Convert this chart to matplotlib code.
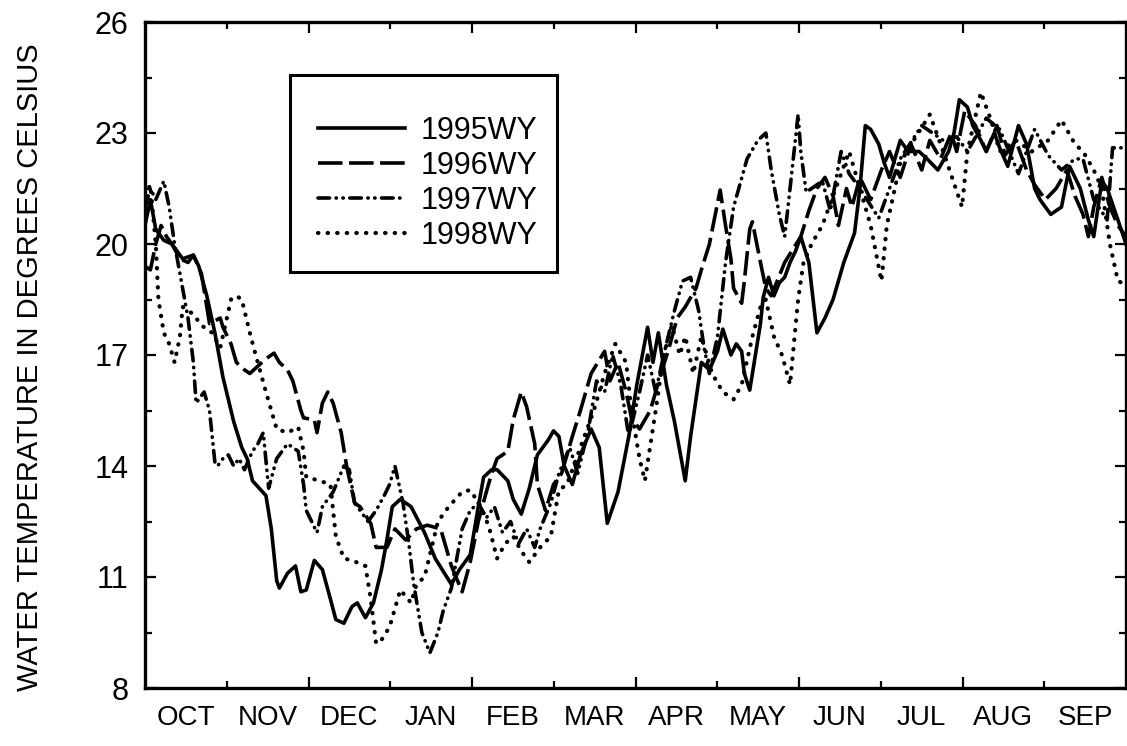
import numpy as np
import matplotlib.pyplot as plt
from matplotlib.patches import Rectangle

plt.rcParams['font.family'] = ['Liberation Sans', 'DejaVu Sans']

# water year runs Oct 1 .. Sep 30, x is day of water year
months = ["OCT", "NOV", "DEC", "JAN", "FEB", "MAR", "APR", "MAY", "JUN", "JUL", "AUG", "SEP"]

days_1995 = [0, 2, 4, 7, 10, 14, 18, 20, 23, 26, 29, 33, 36, 38, 40, 45, 47, 49, 50, 53,
             56, 58, 60, 63, 66, 69, 71, 74, 77, 79, 82, 85, 88, 90, 92, 95, 99, 104, 108, 114,
             117, 121, 124, 126, 129, 131, 135, 137, 140, 143, 146, 150, 152, 154, 156, 159, 162, 166, 169, 172,
             176, 180, 183, 187, 189, 191, 194, 197, 201, 203, 207, 210, 213, 215, 218, 220, 222, 223, 225, 229,
             230, 232, 234, 236, 238, 240, 242, 244, 247, 250, 253, 256, 260, 264, 266, 268, 270, 273, 275, 277,
             281, 284, 288, 291, 295, 299, 301, 303, 306, 308, 311, 313, 316, 318, 321, 325, 328, 331, 333, 337,
             341, 344, 348, 351, 353, 356, 358, 362, 365]
temp_1995 = [20.5, 21.2, 20.4, 20.1, 20.0, 19.6, 19.7, 19.4, 18.6, 17.6, 16.4, 15.2, 14.5, 14.2, 13.6, 13.2, 12.3, 10.9, 10.7, 11.1,
             11.3, 10.6, 10.65, 11.45, 11.2, 10.4, 9.85, 9.75, 10.2, 10.3, 9.9, 10.3, 11.2, 12.0, 12.9, 13.1, 12.9, 12.2, 11.5, 10.8,
             11.2, 11.6, 12.9, 13.7, 13.9, 13.9, 13.6, 13.1, 12.7, 13.4, 14.3, 14.7, 14.95, 14.8, 14.0, 13.5, 14.3, 15.0, 14.5, 12.45,
             13.3, 14.8, 16.2, 17.75, 16.8, 17.6, 16.2, 15.2, 13.6, 14.8, 16.8, 16.6, 17.1, 17.7, 17.0, 17.3, 17.1, 16.5, 16.05, 17.85,
             18.55, 19.1, 18.6, 18.95, 19.1, 19.5, 19.8, 20.2, 19.5, 17.6, 18.0, 18.5, 19.5, 20.3, 21.5, 23.2, 23.1, 22.7, 22.2, 21.8,
             22.8, 22.5, 22.5, 22.3, 22.0, 22.5, 23.0, 23.9, 23.7, 23.2, 22.8, 22.5, 23.0, 22.6, 22.1, 23.2, 22.7, 21.5, 21.2, 20.8,
             21.0, 22.1, 21.5, 20.65, 20.2, 21.7, 21.5, 20.65, 20.0]

days_1996 = [0, 2, 4, 6, 8, 10, 13, 16, 18, 21, 22, 24, 28, 29, 32, 34, 37, 39, 45, 48,
             50, 53, 55, 58, 59, 63, 64, 66, 68, 70, 73, 75, 78, 80, 84, 86, 90, 93, 97, 101,
             105, 110, 114, 118, 121, 124, 127, 129, 131, 135, 137, 140, 142, 145, 146, 149, 152, 155, 159, 162,
             166, 171, 173, 176, 179, 181, 184, 188, 192, 195, 198, 201, 205, 207, 210, 214, 216, 218, 219, 222,
             223, 225, 226, 229, 231, 233, 238, 244, 247, 250, 253, 256, 258, 261, 263, 266, 270, 274, 277, 281,
             285, 289, 292, 296, 300, 302, 305, 309, 313, 317, 320, 324, 328, 331, 335, 339, 343, 346, 349, 351,
             353, 356, 359, 362, 365]
temp_1996 = [19.4, 19.3, 20.0, 20.5, 20.2, 20.0, 19.6, 19.5, 19.7, 19.2, 18.75, 17.85, 18.0, 17.75, 17.3, 16.8, 16.6, 16.5, 16.9, 17.05,
             16.8, 16.6, 16.3, 15.5, 15.3, 15.25, 14.9, 15.7, 16.0, 15.7, 14.9, 14.0, 13.0, 12.9, 12.45, 11.8, 11.8, 12.3, 12.0, 12.3,
             12.4, 12.3, 11.3, 10.6, 11.4, 12.5, 13.3, 13.8, 14.2, 14.4, 15.25, 16.0, 15.6, 14.6, 13.5, 12.8, 13.5, 13.8, 14.8, 15.5,
             16.5, 17.1, 16.3, 16.8, 16.0, 15.3, 15.0, 15.5, 16.5, 17.2, 18.0, 18.3, 18.8, 19.3, 20.0, 21.46, 20.5, 19.6, 18.8, 18.4,
             19.0, 20.4, 20.6, 19.5, 18.8, 18.6, 19.5, 20.2, 20.9, 21.5, 21.8, 21.3, 20.5, 21.5, 21.0, 21.8, 21.2, 22.0, 22.5, 21.8,
             22.7, 22.0, 22.8, 22.3, 23.0, 22.5, 23.6, 23.2, 22.5, 23.2, 22.4, 22.8, 22.0, 21.6, 21.2, 21.5, 22.0, 21.3, 20.8, 20.2,
             21.0, 21.8, 21.0, 20.5, 20.2]

days_1997 = [0, 2, 4, 7, 9, 11, 13, 16, 18, 19, 22, 24, 26, 27, 29, 31, 33, 35, 37, 40,
             42, 44, 46, 49, 53, 57, 59, 60, 64, 66, 70, 74, 76, 78, 80, 83, 86, 89, 91, 93,
             96, 98, 100, 103, 106, 109, 111, 114, 116, 118, 121, 124, 127, 130, 133, 136, 139, 142, 145, 147,
             151, 154, 158, 161, 165, 168, 171, 174, 177, 180, 184, 187, 190, 193, 197, 200, 203, 206, 208, 210,
             213, 216, 219, 224, 228, 231, 233, 236, 238, 240, 243, 244, 246, 248, 252, 255, 259, 262, 266, 273,
             281, 289, 297, 302, 306, 313, 318, 325, 331, 336, 341, 346, 349, 353, 358, 360, 365]
temp_1997 = [21.0, 21.5, 21.2, 21.7, 21.0, 20.0, 19.2, 18.0, 16.8, 15.7, 16.0, 15.5, 14.1, 14.0, 14.2, 14.3, 14.0, 14.2, 13.9, 14.4,
             14.6, 14.9, 13.4, 14.2, 14.6, 14.4, 13.5, 12.8, 12.2, 12.9, 13.3, 14.0, 13.9, 13.0, 12.8, 12.5, 12.8, 13.2, 13.5, 14.0,
             13.0, 12.0, 10.8, 9.5, 8.95, 9.5, 10.1, 10.7, 11.5, 12.3, 12.8, 13.0, 12.6, 12.9, 12.2, 12.5, 11.9, 12.3, 11.8, 12.3,
             13.0, 13.8, 14.5, 13.8, 15.0, 16.3, 16.0, 17.0, 16.2, 14.8, 16.0, 17.0, 16.0, 17.0, 18.2, 19.0, 19.1, 18.2, 17.2, 16.5,
             17.5, 19.5, 21.0, 22.3, 22.8, 23.0, 22.0, 20.8, 20.2, 21.5, 23.5, 22.5, 21.4, 21.5, 21.7, 20.9, 22.5, 21.9, 21.5, 20.7,
             22.3, 23.2, 22.8, 22.9, 22.5, 23.4, 23.1, 21.9, 23.1, 22.4, 22.0, 22.3, 22.3, 21.2, 20.65, 22.6, 22.6]

days_1998 = [0, 2, 4, 5, 7, 9, 11, 13, 14, 18, 21, 25, 28, 32, 34, 36, 39, 41, 45, 47,
             49, 53, 57, 59, 60, 65, 69, 71, 74, 77, 82, 84, 86, 88, 91, 95, 99, 101, 104, 109,
             113, 118, 121, 125, 128, 131, 134, 137, 140, 143, 147, 151, 154, 157, 162, 167, 171, 175, 179, 181,
             184, 186, 190, 193, 196, 199, 201, 204, 207, 211, 215, 219, 222, 226, 229, 231, 234, 237, 240, 243,
             245, 248, 252, 257, 262, 266, 270, 274, 276, 279, 281, 286, 292, 297, 304, 306, 311, 315, 318, 324,
             330, 336, 341, 346, 349, 353, 356, 359, 362, 365]
temp_1998 = [21.3, 21.6, 20.0, 18.5, 17.6, 17.3, 16.8, 17.5, 18.3, 18.1, 17.8, 17.6, 17.2, 18.5, 18.6, 18.5, 17.6, 17.05, 16.0, 15.5,
             15.0, 14.9, 15.05, 14.4, 13.7, 13.6, 13.5, 12.1, 11.5, 11.45, 11.3, 10.4, 9.2, 9.3, 9.65, 10.65, 10.3, 10.8, 11.0, 12.5,
             12.9, 13.3, 13.35, 12.9, 12.35, 11.5, 11.9, 12.1, 11.7, 11.4, 11.8, 12.1, 13.35, 13.5, 14.5, 15.5, 16.5, 17.3, 16.8, 15.5,
             14.2, 13.6, 15.5, 17.0, 17.8, 17.0, 17.5, 16.5, 17.5, 16.5, 16.0, 15.8, 16.2, 17.5, 18.3, 18.5, 17.5, 17.0, 16.2, 18.5,
             19.5, 20.0, 20.5, 21.5, 22.5, 21.5, 20.5, 19.0, 20.5, 21.5, 22.2, 22.8, 23.5, 22.5, 21.0, 22.5, 24.1, 23.3, 22.5, 22.8,
             22.5, 22.8, 23.35, 22.7, 22.5, 22.0, 21.5, 20.0, 19.0, 18.9]

W, H = 1127, 746
fig = plt.figure(figsize=(W / 100, H / 100), dpi=100)
ax = fig.add_axes([145 / W, 58 / H, 981 / W, 666 / H])

lw = 2.6
ax.plot(days_1995, temp_1995, color='black', lw=lw, solid_joinstyle='round', label='1995WY')
ax.plot(days_1996, temp_1996, color='black', lw=lw, dashes=(6.8, 1.8), label='1996WY')
ax.plot(days_1997, temp_1997, color='black', lw=lw, dashes=(3.2, 1.8, 0.1, 1.8, 0.1, 1.8),
        dash_capstyle='round', label='1997WY')
ax.plot(days_1998, temp_1998, color='black', lw=3.0, dashes=(0.1, 2.2),
        dash_capstyle='round', label='1998WY')

ax.set_xlim(0, 365)
ax.set_ylim(8, 26)

# month boundaries: long ticks every other month
month_len = 365 / 12
bounds = np.arange(13) * month_len
ax.set_xticks(bounds[2:12:2])
ax.set_xticks(bounds[1:12:2], minor=True)
ax.set_xticklabels([])
for i, m in enumerate(months):
    ax.text((i + 0.5) * month_len, -0.026, m, transform=ax.get_xaxis_transform(),
            ha='center', va='top', fontsize=20)

ax.set_yticks(np.arange(8, 27, 3))
ax.set_yticks(np.arange(9.5, 26, 3), minor=True)

ax.tick_params(which='both', direction='in', top=True, right=True, width=1.6, labelsize=22, pad=12)
ax.tick_params(which='major', length=8)
ax.tick_params(which='minor', length=5)

for s in ax.spines.values():
    s.set_linewidth(2.4)

fig.text(30 / W, 1 - 367 / H, 'WATER TEMPERATURE IN DEGREES CELSIUS', rotation=90,
         ha='center', va='center', fontsize=21)

# legend entries without frame, box drawn separately to match the original size
leg = ax.legend(loc='upper left', bbox_to_anchor=(0.1764, 0.859), fontsize=22, handlelength=2.85,
                handletextpad=0.5, borderpad=0, labelspacing=0.16, frameon=False, borderaxespad=0)
ax.add_patch(Rectangle((0.148, 0.625), 0.272, 0.295, transform=ax.transAxes, fill=False,
                       edgecolor='black', lw=2.2, zorder=5))

fig.savefig('out.png', dpi=100)
